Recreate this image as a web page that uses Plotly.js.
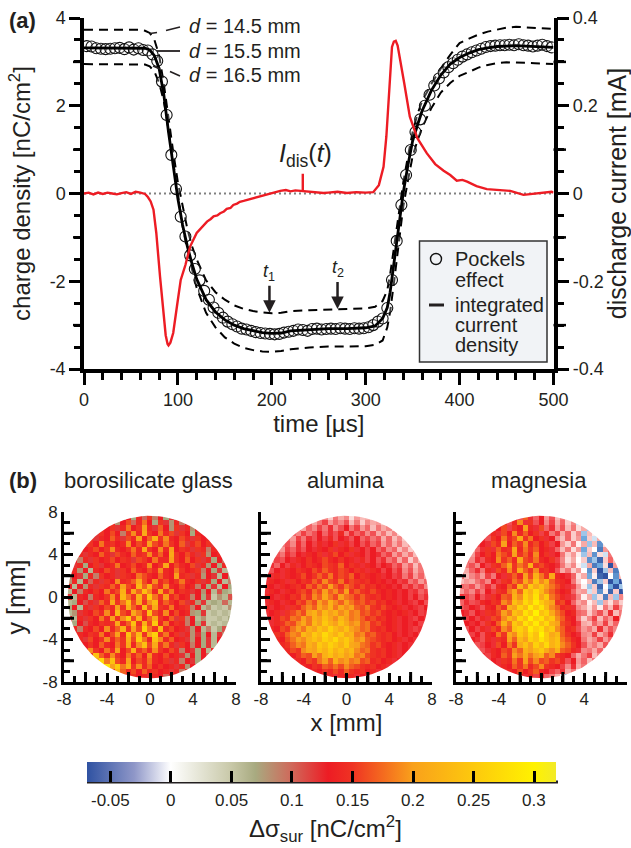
<!DOCTYPE html>
<html><head><meta charset="utf-8">
<script src="https://cdn.plot.ly/plotly-3.0.1.min.js"></script>
<style>html,body{margin:0;padding:0;background:#fff}#g{width:631px;height:848px}</style></head>
<body><div id="g"></div><script>
// ---------- panel (a) ----------
const pockelsTime=[3,8,13,18,23,28,33,38,43,48,53,58,63,68,73,78,83,88,93,98,103,108,113,118,123,128,133,138,143,148,153,158,163,168,173,178,183,188,193,198,203,208,213,218,223,228,233,238,243,248,253,258,263,268,273,278,283,288,293,298,303,308,313,318,323,328,333,338,343,348,353,358,363,368,373,378,383,388,393,398,403,408,413,418,423,428,433,438,443,448,453,458,463,468,473,478,483,488,493,498];
const pockelsCharge=[3.36,3.35,3.31,3.30,3.29,3.30,3.31,3.32,3.29,3.33,3.28,3.31,3.27,3.26,3.17,3.02,2.55,1.79,0.88,0.10,-0.53,-0.98,-1.41,-1.72,-1.98,-2.22,-2.42,-2.60,-2.72,-2.83,-2.92,-2.98,-3.03,-3.08,-3.10,-3.13,-3.16,-3.18,-3.19,-3.20,-3.21,-3.20,-3.17,-3.15,-3.13,-3.10,-3.11,-3.13,-3.09,-3.08,-3.10,-3.09,-3.08,-3.09,-3.07,-3.08,-3.09,-3.07,-3.08,-3.07,-3.05,-3.00,-2.92,-2.85,-2.61,-1.97,-1.08,-0.26,0.42,0.99,1.40,1.69,2.00,2.25,2.46,2.62,2.76,2.88,2.97,3.05,3.12,3.17,3.22,3.26,3.30,3.34,3.36,3.37,3.38,3.38,3.39,3.38,3.40,3.38,3.37,3.35,3.37,3.39,3.36,3.33];
const lineTime=[0,20,40,60,65,70,75,80,85,90,95,100,105,110,115,120,130,140,150,160,170,180,190,200,210,220,240,260,280,300,310,318,323,326,330,335,340,345,350,355,360,370,380,390,400,410,420,430,440,450,460,470,480,490,500];
const chargeD155=[3.32,3.32,3.32,3.32,3.31,3.27,3.14,2.85,2.25,1.40,0.60,-0.12,-0.72,-1.20,-1.60,-1.95,-2.42,-2.70,-2.88,-3.00,-3.08,-3.13,-3.17,-3.19,-3.18,-3.13,-3.10,-3.08,-3.08,-3.06,-3.02,-2.85,-2.60,-2.25,-1.60,-0.75,0.02,0.65,1.20,1.55,1.88,2.35,2.70,2.95,3.10,3.20,3.28,3.32,3.35,3.36,3.37,3.36,3.35,3.34,3.33];
const chargeD145=[3.73,3.73,3.73,3.73,3.71,3.66,3.50,3.15,2.50,1.70,0.95,0.25,-0.30,-0.80,-1.20,-1.50,-1.98,-2.25,-2.42,-2.55,-2.63,-2.68,-2.71,-2.73,-2.72,-2.68,-2.66,-2.64,-2.63,-2.62,-2.58,-2.45,-2.20,-1.85,-1.25,-0.50,0.25,0.85,1.40,1.80,2.10,2.50,2.85,3.16,3.43,3.53,3.62,3.69,3.74,3.78,3.80,3.79,3.77,3.76,3.75];
const chargeD165=[2.95,2.95,2.95,2.95,2.94,2.90,2.78,2.52,2.10,1.45,0.70,-0.10,-0.75,-1.30,-1.75,-2.15,-2.72,-3.05,-3.28,-3.42,-3.52,-3.57,-3.60,-3.61,-3.59,-3.55,-3.51,-3.49,-3.49,-3.48,-3.45,-3.35,-3.05,-2.70,-2.05,-1.10,-0.30,0.30,0.85,1.20,1.50,1.95,2.30,2.52,2.68,2.77,2.87,2.93,2.97,2.99,2.99,2.98,2.97,2.96,2.95];
const currentTime=[0,5,10,15,20,25,30,35,40,45,50,55,60,65,68,71,74,77,81,85,87,89,90,92,95,99,103,108,113,120,125,128,131,135,138,142,145,149,152,156,159,163,166,170,175,180,185,190,195,202,209,215,220,225,230,233,240,248,255,260,270,280,290,300,308,314,319,322,325,328,330,332,334,337,341,347,355,365,374,383,390,397,403,408,418,429,442,454,468,482,498,500];
const currentMA=[0,.002,-.002,.002,-.001,.002,0,-.002,.001,.003,-.001,.004,.002,-.001,-.008,-.018,-.037,-.09,-.19,-.29,-.323,-.343,-.346,-.34,-.318,-.257,-.197,-.163,-.121,-.09,-.078,-.072,-.064,-.058,-.052,-.05,-.045,-.041,-.035,-.033,-.026,-.023,-.019,-.017,-.014,-.012,-.008,-.006,-.003,.002,.006,.008,.005,.007,.006,.005,.004,.003,.001,.002,.004,.001,.003,.002,.003,.019,.061,.13,.228,.334,.346,.348,.337,.304,.252,.175,.126,.092,.067,.052,.042,.029,.031,.027,.017,.01,.008,.006,-.003,0,.004,.002];
const zeroTime=[0,500], zeroLevel=[0,0];
const leftTicks=[-4,-2,0,2,4], leftLabels=['-4','-2','0','2','4'], leftLongTicks=[-3,-1,1,3];
const rightTicks=[-0.4,-0.2,0,0.2,0.4], rightLabels=['-0.4','-0.2','0','0.2','0.4'], rightLongTicks=[-0.3,-0.1,0.1,0.3];
// ---------- panel (b): surface charge, 0.01 nC/cm2, rows from y=7.5 down to y=-7.5; each row lists the cells across the disc ----------
const mapX=[-8,-7.5,-7,-6.5,-6,-5.5,-5,-4.5,-4,-3.5,-3,-2.5,-2,-1.5,-1,-0.5,0,0.5,1,1.5,2,2.5,3,3.5,4,4.5,5,5.5,6,6.5,7,7.5,8];
const mapY=[7.5,7,6.5,6,5.5,5,4.5,4,3.5,3,2.5,2,1.5,1,0.5,0,-0.5,-1,-1.5,-2,-2.5,-3,-3.5,-4,-4.5,-5,-5.5,-6,-6.5,-7,-7.5];
const glassRows=[
[8,13,7,14,10,15,9,13,7,12,8],
[13,14,8,13,16,10,14,18,13,7,15,12,8,14,9,13,14],
[14,13,15,12,14,18,13,15,20,14,12,17,13,8,15,12,14,8,13],
[14,12,15,13,16,13,9,15,19,14,21,15,13,18,14,16,12,15,13,7,14,13,15],
[13,15,12,14,13,17,14,12,16,14,20,13,17,22,15,19,14,13,16,14,12,15,13,14,12],
[14,12,15,13,18,14,15,13,14,19,13,16,14,20,16,14,18,15,13,17,12,14,16,13,15,12,14],
[15,13,14,16,13,15,19,14,13,15,18,14,21,15,13,19,14,20,13,15,14,12,15,14,9,14,13],
[13,14,12,14,13,17,14,12,16,14,13,17,14,15,19,14,17,13,21,15,13,16,14,12,15,8,13,14,8],
[14,13,9,14,12,15,13,14,16,13,15,14,12,16,15,13,18,14,14,20,15,13,17,13,15,12,14,7,13,10,7],
[13,12,14,7,13,15,12,13,14,18,13,14,16,13,14,19,13,15,21,13,16,14,13,16,12,14,8,13,7,14,6],
[12,14,8,13,6,14,13,16,14,12,15,13,17,14,13,16,14,19,14,13,18,15,13,14,15,9,13,7,12,6,12],
[14,9,13,12,7,14,9,15,13,14,12,15,14,13,18,16,14,13,17,14,13,20,14,15,12,14,8,13,12,6,13,8,6],
[13,8,14,6,13,10,14,12,15,13,19,14,15,17,21,16,13,19,14,16,13,15,18,14,13,15,12,14,7,13,6,9,12],
[7,13,6,13,8,14,12,15,14,17,14,20,16,14,23,17,22,16,14,19,14,13,16,13,14,9,13,7,12,6,13,7,6],
[13,6,13,9,14,13,15,13,18,14,16,22,15,21,17,24,19,14,21,15,18,13,15,14,12,13,8,13,6,11,7,6,12],
[8,12,6,14,13,9,14,13,15,19,14,23,18,15,22,16,25,18,15,20,14,16,13,14,9,13,7,12,5,8,6,11,6],
[13,6,7,13,11,14,12,17,14,21,15,18,24,16,21,15,19,23,14,17,15,13,16,12,14,8,12,6,7,6,10,6,7],
[6,7,13,6,14,12,15,13,16,14,20,15,22,17,14,23,16,21,15,14,18,13,14,15,9,13,6,8,5,6,5,8,6],
[13,6,8,12,14,13,16,14,19,14,23,16,14,21,18,15,24,16,14,19,13,16,13,14,8,7,12,5,6,5,6,5,9],
[7,13,6,14,12,15,13,18,14,20,15,19,25,16,22,14,17,21,15,13,17,12,15,9,13,6,8,5,5,6,5,7,6],
[13,7,13,11,14,13,15,14,15,21,14,17,24,15,22,16,25,14,18,13,15,14,9,13,7,12,5,6,5,6,10],
[12,14,9,14,13,16,13,19,14,17,22,15,20,16,26,18,15,23,14,16,13,14,12,8,13,6,9,5,7,11,13],
[14,12,14,13,15,14,18,13,16,20,14,24,17,23,15,21,26,15,18,13,15,12,14,8,12,7,13,6,12,9,14],
[13,14,12,16,13,15,19,14,17,15,22,16,25,18,14,24,19,14,17,13,14,12,8,13,7,12,6,13,10],
[14,13,15,13,17,14,13,18,15,21,14,19,24,16,21,15,18,14,12,15,13,9,13,7,12,6,13],
[16,14,19,15,13,18,14,20,13,16,22,15,17,14,19,15,13,16,14,9,13,12,7,13,6,14,12],
[22,15,24,17,14,19,15,13,18,14,17,13,19,14,13,16,13,14,12,8,13,7,13,10,13],
[26,21,27,18,24,16,14,20,13,16,14,18,14,13,15,12,14,9,13,12,7,13,11],
[24,28,20,25,18,22,15,19,14,17,13,15,13,14,12,14,8,13,12],
[20,15,23,17,14,16,13,17,14,15,13,14,12,14,9,13,12],
[14,13,15,13,14,12,14,13,10,13,12]];
const aluminaRows=[
[4,7,3,8,5,7,2,6,4,5,3],
[6,9,5,8,11,6,9,7,10,4,8,3,7,5,6,3,6],
[8,5,9,7,11,8,12,7,10,13,8,11,6,9,4,8,5,7,3],
[6,9,7,11,8,10,13,9,12,10,14,8,12,9,11,7,10,5,8,4,7,3,6],
[7,9,6,11,8,12,10,13,11,14,10,13,12,10,13,9,11,8,10,5,9,4,7,3,5],
[5,8,10,7,12,9,13,11,14,12,13,15,12,14,11,13,10,12,9,11,6,9,5,8,4,6,3],
[8,6,11,9,12,10,13,12,14,13,15,12,14,13,15,12,13,11,13,9,11,7,9,4,7,3,5],
[7,10,8,12,10,13,12,14,13,15,12,14,16,13,15,12,14,13,11,13,12,9,11,6,9,5,8,4,6],
[9,8,11,10,13,12,14,13,15,13,14,16,14,13,15,13,14,12,14,11,13,10,12,8,10,5,9,3,7,4,6],
[10,12,9,13,11,14,12,13,15,14,13,16,15,14,17,13,15,14,12,14,13,11,13,12,9,11,6,9,4,8,5],
[12,10,13,12,14,13,15,14,13,16,14,17,15,14,16,15,13,15,14,12,14,13,11,13,10,12,7,10,5,8,4],
[11,13,12,14,12,14,13,14,16,13,15,17,15,18,14,16,15,17,13,15,14,13,14,12,13,11,12,8,11,6,9,5,8],
[13,12,14,13,14,12,15,13,15,14,17,15,19,16,15,18,14,16,15,14,15,13,14,13,12,13,11,12,8,10,6,9,6],
[12,14,13,12,14,13,14,15,13,17,15,18,16,20,17,15,18,16,14,16,14,15,13,14,13,12,13,10,12,9,11,7,9],
[13,12,14,13,12,14,13,15,16,14,18,16,20,17,19,16,20,15,17,15,14,16,14,13,14,13,12,13,11,12,9,11,8],
[12,14,13,12,14,13,15,14,17,15,19,17,21,18,16,20,18,17,15,17,15,14,15,13,14,13,12,13,11,13,10,12,10],
[13,12,14,13,12,14,13,16,15,18,16,20,18,22,19,17,20,18,16,17,15,16,14,15,13,14,12,13,12,11,13,10,12],
[12,14,12,13,14,12,15,14,17,19,17,21,19,22,18,21,19,20,17,16,18,15,14,16,14,13,14,12,13,12,11,13,11],
[13,12,13,14,12,15,16,18,16,20,22,19,23,20,22,19,21,18,19,16,17,15,16,14,13,14,13,14,12,13,11,12,12],
[12,13,12,14,16,15,18,17,20,18,22,20,24,21,19,23,20,18,19,17,15,16,14,15,13,14,12,13,12,11,13,12,10],
[13,12,14,15,17,16,19,21,18,23,20,25,22,20,24,21,19,20,17,18,15,16,14,13,14,12,13,12,13,11,12],
[12,14,13,16,15,18,20,18,22,20,24,22,26,23,21,24,20,19,17,18,15,14,15,13,14,12,13,12,11,12,11],
[12,13,15,14,17,19,18,23,21,25,23,27,24,22,25,21,22,18,19,16,17,15,14,15,13,12,13,12,13,11,12],
[13,14,13,16,18,20,19,22,24,22,26,24,27,23,25,22,19,20,17,16,15,14,15,13,14,12,13,12,12],
[12,14,15,17,19,18,22,20,25,23,26,24,22,25,21,20,18,17,15,16,14,13,14,12,13,12,13],
[13,12,14,16,15,19,21,20,24,22,25,22,24,21,23,19,17,18,15,14,15,13,14,12,13,12,11],
[13,14,13,15,17,16,20,18,22,24,21,23,20,22,18,19,16,15,14,15,13,14,12,13,12],
[13,12,14,13,16,15,18,20,17,22,19,20,18,19,16,17,14,15,13,14,12,13,12],
[13,14,13,15,14,17,16,18,16,19,17,16,15,14,15,13,14,12,13],
[13,12,14,13,15,14,16,14,17,15,14,15,13,14,12,13,12],
[12,13,14,12,14,13,14,12,13,12,11]];
const magnesiaRows=[
[14,10,17,12,9,13,6,10,4,8,3],
[12,15,10,14,19,12,15,10,13,7,11,5,9,3,7,-1,4],
[9,13,16,11,15,13,20,14,12,16,9,12,6,10,4,8,2,5,-2],
[7,11,14,12,16,13,19,14,17,13,15,11,14,8,11,5,9,3,7,-2,4,1,5],
[9,12,10,15,13,18,14,16,21,15,18,13,15,12,13,7,4,9,3,6,-3,3,-1,5,6],
[7,11,13,12,16,14,20,13,17,15,19,14,16,13,15,11,13,6,3,8,1,5,-2,4,-4,2,7],
[5,9,12,15,12,17,14,15,21,14,18,15,17,13,14,12,9,4,8,2,6,-3,3,0,-5,6,9],
[8,6,11,13,15,13,18,16,14,20,15,17,14,19,13,15,12,13,8,3,6,1,-2,4,-4,2,-1,8,5],
[6,9,7,12,10,14,13,19,15,17,14,21,16,15,18,14,13,15,11,7,2,5,0,3,-4,-2,-6,3,9,4,6],
[5,8,10,7,13,11,15,14,17,20,15,18,16,22,15,16,14,13,12,8,4,7,1,-1,5,-5,-3,2,-7,6,8],
[7,5,9,12,8,14,12,16,14,19,15,21,17,15,19,14,15,13,10,5,8,3,6,0,-4,3,-8,-2,4,-5,7],
[5,8,4,7,9,6,11,8,13,12,15,17,14,20,16,22,18,15,21,14,13,12,9,2,5,-3,1,-6,-9,0,-4,5,2],
[7,4,6,5,8,10,7,13,11,15,14,18,16,21,18,24,19,22,17,15,14,13,8,3,0,4,-5,-2,3,-7,-3,-10,4],
[6,9,8,10,6,9,12,9,14,13,17,15,22,18,25,21,24,20,18,16,14,12,11,6,1,-2,3,-6,0,-3,-8,-2,6],
[8,6,9,7,11,8,13,11,15,14,18,21,17,25,22,27,23,19,17,15,13,14,9,5,6,-1,3,-4,1,-6,3,-9,-4],
[9,12,11,9,13,10,12,15,13,17,16,22,19,26,23,28,21,25,18,16,14,12,11,7,1,5,-2,2,-5,4,-2,7,-11],
[11,9,12,10,11,14,13,15,14,19,17,24,21,27,24,29,25,22,20,15,16,13,9,5,7,1,4,-2,5,2,7,3,8],
[12,10,11,13,12,10,14,13,17,15,22,20,26,23,29,25,28,23,19,17,14,15,12,7,5,2,6,1,8,4,11,6,9],
[11,13,12,10,13,12,15,14,16,20,18,24,22,28,25,30,24,26,21,18,16,13,14,9,8,3,7,10,5,12,4,8,11],
[12,10,11,13,11,14,12,16,15,19,23,20,27,24,30,26,28,23,25,19,17,14,13,8,3,7,11,4,9,6,13,7,9],
[11,13,12,13,11,15,13,17,22,18,25,22,28,25,29,24,27,22,20,16,15,13,11,5,4,9,6,11,5,9,7],
[12,10,13,11,14,12,16,14,19,17,24,26,23,29,26,28,23,25,19,17,14,15,10,6,8,5,12,6,10,7,8],
[13,11,11,13,10,14,13,18,15,21,19,25,22,27,24,30,25,21,23,17,15,13,12,7,6,11,5,8,12,6,9],
[11,13,12,10,14,12,15,14,20,17,23,20,26,24,28,25,22,24,18,16,14,13,8,5,7,11,6,9,7],
[12,10,11,13,12,16,13,18,15,21,24,20,26,23,27,22,24,19,17,15,13,10,6,8,5,10,6],
[11,9,10,12,14,13,16,15,19,17,22,20,23,25,21,19,22,17,16,14,12,7,8,5,9,3,7],
[9,12,11,14,13,17,15,20,18,21,18,20,22,17,19,15,14,13,9,5,8,11,4,7,5],
[8,11,13,12,15,14,18,15,20,16,19,16,17,15,16,14,10,13,6,9,4,8,3],
[10,12,14,13,17,15,18,14,16,19,15,14,13,11,7,12,5,8,3],
[9,12,14,13,16,13,15,17,14,13,11,9,12,5,8,2,-3],
[10,13,12,14,11,13,9,8,5,1,-4]];
const mapTitles=['borosilicate glass','alumina','magnesia'];
const mapMajor=[-8,-4,0,4,8], mapLabels=['-8','-4','0','4','8'], mapLongTicks=[-6,-2,2,6];
const barTicks=[-0.05,0,0.05,0.1,0.15,0.2,0.25,0.3], barLabels=['-0.05','0','0.05','0.1','0.15','0.2','0.25','0.3'];
const zMin=-0.069, zMax=0.318;
const barStops=[[-0.069,'#2f52a2'],[-0.03,'#8f97c8'],[0,'#ffffff'],[0.05,'#c8c8a8'],[0.07,'#a8aa80'],[0.1,'#d0685a'],[0.13,'#ed1c24'],[0.15,'#ef3323'],[0.2,'#f9a11b'],[0.25,'#fdc90d'],[0.3,'#fff200'],[0.318,'#f2ea28']];
const pinkStops=[[-0.069,'#2f52a2'],[-0.03,'#6fa8dc'],[0,'#ffffff'],[0.05,'#f8aaa6'],[0.13,'#ed1c24'],[0.15,'#ef3323'],[0.2,'#f9a11b'],[0.25,'#fdc90d'],[0.3,'#fff200'],[0.318,'#f2ea28']];

// ---------- layout helpers ----------
const W=631,H=848,INK='#231f20',FONT='Liberation Sans, Arial, sans-serif';
const px=x=>x/W, py=y=>1-y/H;
const scale=s=>s.map(([v,c])=>[(v-zMin)/(zMax-zMin),c]);
// rows are centred on the x axis and held at their end value outside the disc
const gridOf=rows=>rows.map(r=>{const pad=mapX.length-r.length,l=Math.floor(pad/2),out=[];
  for(let i=0;i<l;i++)out.push(r[0]/100);
  r.forEach(v=>out.push(v/100));
  for(let i=0;i<pad-l;i++)out.push(r[r.length-1]/100);
  return out;});
const line=(x0,y0,x1,y1,w,dash)=>({type:'line',xref:'paper',yref:'paper',x0:px(x0),y0:py(y0),x1:px(x1),y1:py(y1),line:{color:INK,width:w,dash:dash||'solid'}});
const label=(x,y,text,size,anchor)=>({xref:'paper',yref:'paper',x:px(x),y:py(y),text,showarrow:false,xanchor:anchor||'left',yanchor:'middle',font:{size,color:INK,family:FONT}});
const pointer=(t,v,text)=>({xref:'x',yref:'y',x:t,y:v,text,showarrow:true,ax:0,ay:-40,arrowhead:2,arrowsize:1,arrowwidth:2.5,arrowcolor:INK,standoff:0,font:{size:18,color:INK,family:FONT}});

const traces=[
 {x:zeroTime,y:zeroLevel,mode:'lines',line:{color:'#808080',width:2,dash:'2px,3px'},xaxis:'x',yaxis:'y',showlegend:false},
 {x:currentTime,y:currentMA,mode:'lines',line:{color:'#ed1c24',width:2.4},xaxis:'x',yaxis:'y2',showlegend:false,name:'I_dis'},
 {x:lineTime,y:chargeD145,mode:'lines',line:{color:'#000',width:2,dash:'9px,6px'},xaxis:'x',yaxis:'y',showlegend:false,name:'d = 14.5 mm'},
 {x:lineTime,y:chargeD165,mode:'lines',line:{color:'#000',width:2,dash:'9px,6px'},xaxis:'x',yaxis:'y',showlegend:false,name:'d = 16.5 mm'},
 {x:pockelsTime,y:pockelsCharge,mode:'markers',marker:{symbol:'circle',size:11,color:'rgba(255,255,255,0.25)',line:{color:'#111',width:1.1}},xaxis:'x',yaxis:'y',showlegend:false,name:'Pockels effect'},
 {x:lineTime,y:chargeD155,mode:'lines',line:{color:'#000',width:2.8},xaxis:'x',yaxis:'y',showlegend:false,name:'d = 15.5 mm'}
];
const sets=[[glassRows,barStops],[aluminaRows,pinkStops],[magnesiaRows,pinkStops]];
// white surround that trims each square map to the round measuring area
const R=7.65, mx=[-9,-9,9,9,-9,-9], my=[0,9,9,-9,-9,0];
for(let d=0;d<=360;d+=4){mx.push(-R*Math.cos(d*Math.PI/180));my.push(-R*Math.sin(d*Math.PI/180));}
sets.forEach(([rows,stops],i)=>{
  const n=i+3;
  const hm={type:'heatmap',x:mapX,y:mapY,z:gridOf(rows),zmin:zMin,zmax:zMax,zsmooth:false,colorscale:scale(stops),showscale:i===0,xaxis:'x'+n,yaxis:'y'+n,hoverinfo:'skip'};
  if(i===0) hm.colorbar={orientation:'h',x:px(87),xanchor:'left',y:py(762),yanchor:'top',len:469,lenmode:'pixels',thickness:20,thicknessmode:'pixels',xpad:0,ypad:0,outlinewidth:0,
    tickmode:'array',tickvals:barTicks,ticktext:barLabels,ticks:'inside',ticklen:11,tickwidth:3,tickcolor:'#000',showticklabels:false};
  traces.push(hm);
  traces.push({x:mx,y:my,mode:'lines',fill:'toself',fillcolor:'#fff',line:{width:0,color:'#fff'},xaxis:'x'+n,yaxis:'y'+n,showlegend:false,hoverinfo:'skip'});
});

const mapAxisStyle={range:[-8,8],showgrid:false,zeroline:false,showline:true,linecolor:'#000',linewidth:3,ticks:'inside',ticklen:9,tickwidth:3,tickcolor:'#000',tickmode:'array',tickvals:mapMajor,ticktext:mapLabels,tickfont:{size:17,color:INK,family:FONT},minor:{dtick:1,tick0:0,ticks:'inside',ticklen:6,tickwidth:3,tickcolor:'#000',showgrid:false},layer:'above traces'};
const panels=[[64,236],[261,432],[456,627]];
const shapes=[
  line(180,27,166,30.5,1.6), line(157,32.5,150,33.5,1.6),
  line(180,51,157,51,1.8),
  line(180,76,170,71.5,1.6), line(160,69,153,66,1.6),
  {type:'line',xref:'x',yref:'y2',x0:233,x1:233,y0:0.004,y1:0.045,line:{color:'#ed1c24',width:2.4}},
  {type:'rect',xref:'paper',yref:'paper',x0:px(419.5),x1:px(547),y0:py(362),y1:py(241),fillcolor:'#f1f3f6',line:{color:'#333',width:1.5}},
  {type:'circle',xref:'paper',yref:'paper',x0:px(430.5),x1:px(441.5),y0:py(264.5),y1:py(253.5),fillcolor:'rgba(0,0,0,0)',line:{color:'#111',width:1.4}},
  line(429,305,444,305,3),
  line(87,782,558,782,3)
];
// the longer unlabelled ticks
leftLongTicks.forEach(v=>shapes.push({type:'line',xref:'paper',yref:'y',x0:px(73),x1:px(84),y0:v,y1:v,line:{color:'#000',width:2.5}}));
rightLongTicks.forEach(v=>shapes.push({type:'line',xref:'paper',yref:'y2',x0:px(553.5),x1:px(566),y0:v,y1:v,line:{color:'#000',width:2.5}}));
panels.forEach(([a,b],i)=>{const n=i+3;
  mapLongTicks.forEach(v=>{
    shapes.push({type:'line',xref:'paper',yref:'y'+n,x0:px(a),x1:px(a+10),y0:v,y1:v,line:{color:'#000',width:3}});
    shapes.push({type:'line',xref:'x'+n,yref:'paper',x0:v,x1:v,y0:py(682),y1:py(672),line:{color:'#000',width:3}});
  });
});
const barX=v=>87+(v-zMin)/(zMax-zMin)*469;
const layout={width:W,height:H,margin:{l:0,r:0,t:0,b:0},paper_bgcolor:'#fff',plot_bgcolor:'rgba(0,0,0,0)',showlegend:false,font:{family:FONT,color:INK},
 xaxis:{domain:[px(84),px(553.5)],anchor:'y',range:[0,500],dtick:100,tick0:0,showgrid:false,zeroline:false,showline:true,linecolor:'#000',linewidth:3.5,ticks:'outside',ticklen:12,tickwidth:2.5,tickcolor:'#000',tickfont:{size:18,color:INK,family:FONT},minor:{dtick:20,tick0:0,ticks:'outside',ticklen:7,tickwidth:2.5,tickcolor:'#000',showgrid:false},title:{text:'time [µs]',font:{size:24,color:INK,family:FONT},standoff:5}},
 yaxis:{domain:[py(369),py(18)],anchor:'x',range:[-4,4],tickmode:'array',tickvals:leftTicks,ticktext:leftLabels,showgrid:false,zeroline:false,showline:true,linecolor:'#000',linewidth:3.5,ticks:'outside',ticklen:11,tickwidth:2.5,tickcolor:'#000',tickfont:{size:18,color:INK,family:FONT},minor:{dtick:0.5,tick0:0,ticks:'outside',ticklen:6,tickwidth:2.5,tickcolor:'#000',showgrid:false},title:{text:'charge density [nC/cm<sup>2</sup>]',font:{size:24,color:INK,family:FONT},standoff:13}},
 yaxis2:{domain:[py(369),py(18)],anchor:'x',overlaying:'y',side:'right',range:[-0.4,0.4],tickmode:'array',tickvals:rightTicks,ticktext:rightLabels,showgrid:false,zeroline:false,showline:true,linecolor:'#000',linewidth:3.5,ticks:'outside',ticklen:12,tickwidth:2.5,tickcolor:'#000',tickfont:{size:18,color:INK,family:FONT},minor:{dtick:0.05,tick0:0,ticks:'outside',ticklen:7,tickwidth:2.5,tickcolor:'#000',showgrid:false},title:{text:'discharge current [mA]',font:{size:25,color:INK,family:FONT},standoff:7}},
 shapes,
 annotations:[
  label(7,20,'<b>(a)</b>',22),label(7,480,'<b>(b)</b>',22),
  label(187,26,'<i>d</i> = 14.5 mm',20),label(187,51,'<i>d</i> = 15.5 mm',20),label(187,75,'<i>d</i> = 16.5 mm',20),
  label(277,155,'<i>I</i><sub>dis</sub>(<i>t</i>)',25),
  pointer(197.5,-2.72,'<i>t</i><sub>1</sub>'),pointer(270,-2.63,'<i>t</i><sub>2</sub>'),
  label(453,259,'Pockels',20),label(453,280,'effect',20),label(453,305,'integrated',20),label(453,325,'current',20),label(453,345,'density',20),
  label(148,480,mapTitles[0],22,'center'),label(346,480,mapTitles[1],22,'center'),label(539,480,mapTitles[2],22,'center'),
  label(325,829,'Δσ<sub>sur</sub> [nC/cm<sup>2</sup>]',24,'center')
 ].concat(barTicks.map((v,i)=>label(barX(v),800,barLabels[i],17,'center')))
};
panels.forEach(([a,b],i)=>{
  const n=i+3;
  layout['xaxis'+n]=Object.assign({},mapAxisStyle,{domain:[px(a),px(b)],anchor:'y'+n});
  layout['yaxis'+n]=Object.assign({},mapAxisStyle,{domain:[py(682),py(512)],anchor:'x'+n});
  if(i>0) layout['yaxis'+n].showticklabels=false;
});
layout.yaxis3.title={text:'y [mm]',font:{size:25,color:INK,family:FONT},standoff:10};
layout.xaxis4.title={text:'x [mm]',font:{size:24,color:INK,family:FONT},standoff:6};
Plotly.newPlot('g',traces,layout,{displayModeBar:false,responsive:false});
</script></body></html>
